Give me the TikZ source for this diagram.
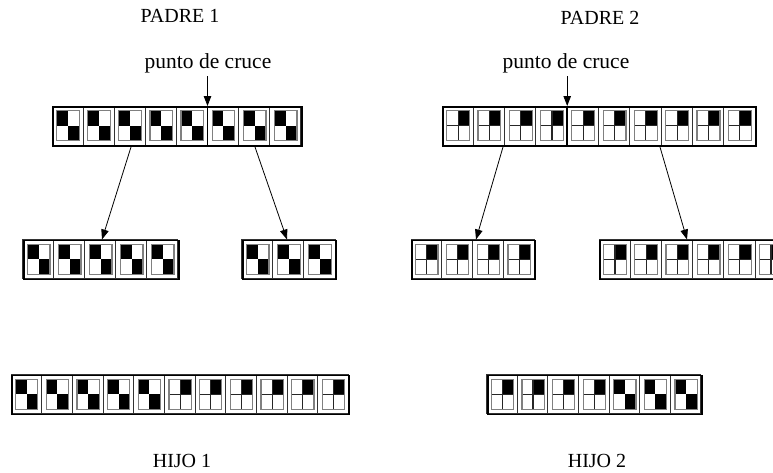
\documentclass[tikz,border=0pt]{standalone}
\usepackage{fontspec}
\setmainfont{Liberation Serif}
\usetikzlibrary{arrows.meta}
\tikzset{
  chromobox/.style={draw, line width=1.8pt, inner sep=0pt, anchor=north west},
  celldiv/.style={draw=black!80, line width=1pt},
  innerline/.style={draw=black!50, line width=1.2pt},
  gridline/.style={draw=black!85, line width=1.1pt},
  crossline/.style={line width=1.8pt},
  arr/.style={-{Triangle[length=10pt,width=7.5pt]}, line width=0.8pt},
  lbl/.style={font=\fontsize{20}{24}\selectfont, anchor=base, inner sep=0pt},
  lbls/.style={font=\fontsize{21.5}{24}\selectfont, anchor=base, inner sep=0pt}
}
\newcommand{\genecell}[5]{%
  \pgfmathsetmacro\gx{#1}\pgfmathsetmacro\gw{#3}%
  \begin{scope}[shift={(\gx,#2)}]
    \pgfmathsetmacro\xa{5.2}\pgfmathsetmacro\xb{\gw-4.4}\pgfmathsetmacro\xm{(\xa+\xb)/2}%
    \pgfmathsetmacro\xo{\xa-0.6}\pgfmathsetmacro\xp{\xb+0.6}%
    \def\ya{5.3}\def\yb{34.2}\def\ym{19.75}%
    \draw[celldiv] (0,0) rectangle (\gw,#4);
    \draw[innerline] (\xo,4.7) rectangle (\xp,34.8);
    \ifnum#5=1
      \fill (\xa,\ya) rectangle (\xm,\ym);
      \fill (\xm,\ym) rectangle (\xb,\yb);
    \else
      \fill (\xm,\ya) rectangle (\xb,\ym);
      \draw[gridline] (\xm,\ya) -- (\xm,\yb) (\xa,\ym) -- (\xb,\ym);
    \fi
  \end{scope}}
% name, x, y, cell width, number of cells, list of patterns
\newcommand{\chromo}[6]{%
  \foreach \p [count=\i from 0] in {#6} {\genecell{#2+\i*#4}{#3}{#4}{39}{\p}}
  \pgfmathsetmacro\tw{#4*#5}%
  \node[chromobox, minimum width=\tw pt, minimum height=39pt] (#1) at (#2,#3) {};}
\begin{document}
\begin{tikzpicture}[x=1pt, y=-1pt]
  \useasboundingbox (0,0) rectangle (773,472);
  \clip (0,0) rectangle (773,472);
  % labels
  \node[lbl] (t1) at (180,22) {PADRE 1};
  \node[lbl] (t2) at (600,24) {PADRE 2};
  \node[lbls] (pc1) at (208,68) {punto de cruce};
  \node[lbls] (pc2) at (566,68) {punto de cruce};
  \node[lbl] (h1) at (182,467) {HIJO 1};
  \node[lbl] (h2) at (597,467) {HIJO 2};
  % parents
  \chromo{P1}{52}{106}{31.1}{8}{1,1,1,1,1,1,1,1}
  \chromo{P2}{442}{106}{31.3}{10}{2,2,2,2,2,2,2,2,2,2}
  % crossover lines
  \coordinate (x1) at (207.5,106);
  \coordinate (x1b) at (207.5,145);
  \coordinate (x2) at (567.2,106);
  \coordinate (x2b) at (567.2,145);
  \draw[crossline] (x1) -- (x1b);
  \draw[crossline] (x2) -- (x2b);
  % crossover arrows
  \coordinate (a1) at (207.5,76);
  \coordinate (a2) at (567.2,76);
  \draw[arr] (a1) -- (x1);
  \draw[arr] (a2) -- (x2);
  % pieces
  \chromo{C1a}{22.7}{239.5}{31}{5}{1,1,1,1,1}
  \chromo{C1b}{241.7}{239.5}{31.1}{3}{1,1,1}
  \chromo{C2a}{411}{239.5}{30.8}{4}{2,2,2,2}
  \chromo{C2b}{599}{239.5}{31.2}{6}{2,2,2,2,2,2}
  % arrows to pieces
  \coordinate (s1) at (131,147);
  \coordinate (s2) at (255,147);
  \coordinate (s3) at (503,147);
  \coordinate (s4) at (660,147);
  \coordinate (e1) at (102,239.5);
  \coordinate (e2) at (287,239.5);
  \coordinate (e3) at (476,239.5);
  \coordinate (e4) at (687,239.5);
  \draw[arr] (s1) -- (e1);
  \draw[arr] (s2) -- (e2);
  \draw[arr] (s3) -- (e3);
  \draw[arr] (s4) -- (e4);
  % children
  \chromo{H1}{11}{374.5}{30.67}{11}{1,1,1,1,1,2,2,2,2,2,2}
  \chromo{H2}{486.7}{374.5}{30.6}{7}{2,2,2,2,1,1,1}
\end{tikzpicture}
\end{document}
